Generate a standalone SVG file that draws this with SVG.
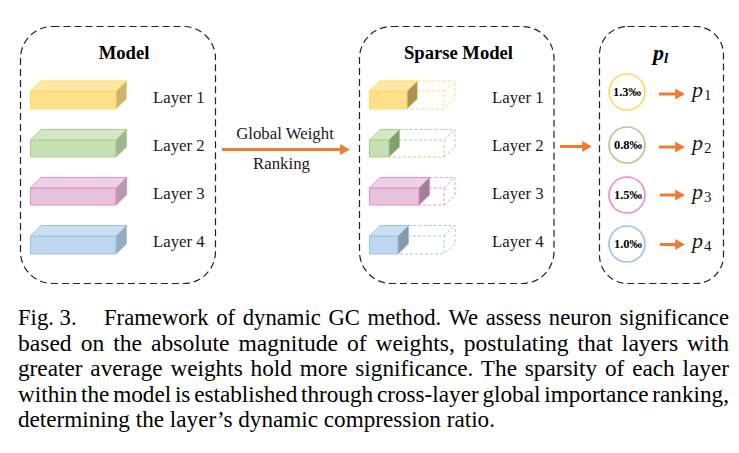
<svg xmlns="http://www.w3.org/2000/svg" width="739" height="453" viewBox="0 0 739 453">
<style>
text{font-family:"Liberation Serif",serif;fill:#1a1a1a}
.frame{fill:none;stroke:#222;stroke-width:1.2;stroke-dasharray:7 4}
.t{font-size:16.800px}
.h{font-size:18.600px;font-weight:bold;text-anchor:middle;fill:#000}
.c{font-size:22.700px;fill:#000}
.pct{font-size:12.500px;font-weight:bold;text-anchor:middle;fill:#000}
.pl{font-size:22px;font-style:italic}
.pl tspan{font-size:15px;font-style:normal}
.conn{stroke:#ed7d31;stroke-width:3;fill:none;marker-end:url(#a)}
.s{stroke-width:1;stroke-linejoin:miter}
.dash{fill:none;stroke-width:.9;stroke-dasharray:3 2}
.ry{stroke:#ffd966}.rg{stroke:#a9d18e}.rp{stroke:#f08ccb}.rb{stroke:#9dc3e6}
.ci{fill:#fff;stroke-width:1.7}
</style>
<defs><marker id="a" markerWidth="4" markerHeight="4" refX="2.6" refY="2" orient="auto"><path d="M0,0.200L3.200,2L0,3.800z" fill="#ed7d31"/></marker></defs>
<rect width="739" height="453" fill="#fff"/>
<g id="model">
<rect class="frame" x="20.500" y="26.500" width="195" height="257" rx="32"/>
<text class="h" x="124" y="59">Model</text>
</g>
<g id="model-layer1"><path class="s ry" fill="#ffe08a" d="M30.500,91V109H116V91z"/><path class="s ry" fill="#ffe8a8" d="M30.500,91L41,81H126.500L116,91z"/><path class="s ry" fill="#ccb56e" d="M116,91L126.500,81V99L116,109z"/><text class="t" x="153" y="103">Layer 1</text></g>
<g id="model-layer2"><path class="s rg" fill="#c6e0b4" d="M30.500,140V157H116V140z"/><path class="s rg" fill="#d3e7c7" d="M30.500,140L41,129.500H126.500L116,140z"/><path class="s rg" fill="#9fb690" d="M116,140L126.500,129.500V147L116,157z"/><text class="t" x="153" y="151">Layer 2</text></g>
<g id="model-layer3"><path class="s rp" fill="#e5c3dd" d="M30.500,188V205H116V188z"/><path class="s rp" fill="#ebd2e6" d="M30.500,188L41,177.500H126.500L116,188z"/><path class="s rp" fill="#b79cb1" d="M116,188L126.500,177.500V195L116,205z"/><text class="t" x="153" y="199">Layer 3</text></g>
<g id="model-layer4"><path class="s rb" fill="#bdd7ee" d="M30.500,236V254H116V236z"/><path class="s rb" fill="#cbdff2" d="M30.500,236L41,225.500H126.500L116,236z"/><path class="s rb" fill="#97acbe" d="M116,236L126.500,225.500V244L116,254z"/><text class="t" x="153" y="247">Layer 4</text></g>

<g id="sparse">
<rect class="frame" x="359.500" y="26.500" width="194.500" height="257" rx="32"/>
<text class="h" x="458.500" y="59">Sparse Model</text>
</g>
<g id="sparse-layer1"><path class="dash ry" d="M407,91H444V109H407M417.500,81H455V99L444,109M444,91L455,81"/><path class="s ry" fill="#ffe08a" d="M369.500,91V109H407V91z"/><path class="s ry" fill="#ffe8a8" d="M369.500,91L380,81H417.500L407,91z"/><path class="s ry" fill="#a8925a" d="M407,91L417.500,81V99L407,109z"/><text class="t" x="492" y="103">Layer 1</text></g>
<g id="sparse-layer2"><path class="dash rg" d="M389,140H444V157H389M399.500,129.500H455V147L444,157M444,140L455,129.500"/><path class="s rg" fill="#c6e0b4" d="M369.500,140V157H389V140z"/><path class="s rg" fill="#d3e7c7" d="M369.500,140L380,129.500H399.500L389,140z"/><path class="s rg" fill="#84a070" d="M389,140L399.500,129.500V147L389,157z"/><text class="t" x="492" y="151">Layer 2</text></g>
<g id="sparse-layer3"><path class="dash rp" d="M419,188H444V205H419M429.500,177.500H455V195L444,205M444,188L455,177.500"/><path class="s rp" fill="#e5c3dd" d="M369.500,188V205H419V188z"/><path class="s rp" fill="#ebd2e6" d="M369.500,188L380,177.500H429.500L419,188z"/><path class="s rp" fill="#a08098" d="M419,188L429.500,177.500V195L419,205z"/><text class="t" x="492" y="199">Layer 3</text></g>
<g id="sparse-layer4"><path class="dash rb" d="M398,236H444V254H398M408.500,225.500H455V244L444,254M444,236L455,225.500"/><path class="s rb" fill="#bdd7ee" d="M369.500,236V254H398V236z"/><path class="s rb" fill="#cbdff2" d="M369.500,236L380,225.500H408.500L398,236z"/><path class="s rb" fill="#8499ab" d="M398,236L408.500,225.500V244L398,254z"/><text class="t" x="492" y="247">Layer 4</text></g>

<g id="pl">
<rect class="frame" x="599.500" y="26.500" width="124" height="257" rx="28"/>
<text x="653" y="60" style="font-size:22px;font-weight:bold;font-style:italic;fill:#000">p<tspan font-size="15" dy="3">l</tspan></text>
</g>
<g id="p1"><circle class="ci ry" cx="627" cy="92" r="18"/><text class="pct" x="627" y="96">1.3‰</text><text class="pl" x="692" y="97">p<tspan dx="1" dy="3">1</tspan></text></g>
<g id="p2"><circle class="ci rg" cx="627" cy="145" r="18"/><text class="pct" x="628" y="149">0.8‰</text><text class="pl" x="692" y="150">p<tspan dx="1" dy="3">2</tspan></text></g>
<g id="p3"><circle class="ci rp" cx="627" cy="195" r="18"/><text class="pct" x="628" y="199">1.5‰</text><text class="pl" x="692" y="199">p<tspan dx="1" dy="3">3</tspan></text></g>
<g id="p4"><circle class="ci rb" cx="627" cy="244" r="18"/><text class="pct" x="628" y="248">1.0‰</text><text class="pl" x="692" y="248">p<tspan dx="1" dy="3">4</tspan></text></g>

<g id="connectors">
<path class="conn" d="M222,149.500H348"/>
<path class="conn" d="M560,146.500H590"/>
<path class="conn" d="M659,94H683"/>
<path class="conn" d="M659,147H683"/>
<path class="conn" d="M660,195H683"/>
<path class="conn" d="M660,244.500H683"/>
</g>
<text class="t" x="285" y="139" text-anchor="middle">Global Weight</text>
<text class="t" x="281.500" y="169" text-anchor="middle">Ranking</text>

<g id="caption">
<text class="c" x="18" y="325">Fig. 3.</text>
<text class="c" x="104" y="325" word-spacing="2" lengthAdjust="spacingAndGlyphs" textLength="625">Framework of dynamic GC method. We assess neuron significance</text>
<text class="c" x="18" y="350.500" word-spacing="3" lengthAdjust="spacingAndGlyphs" textLength="711">based on the absolute magnitude of weights, postulating that layers with</text>
<text class="c" x="18" y="376" word-spacing="2" lengthAdjust="spacingAndGlyphs" textLength="711">greater average weights hold more significance. The sparsity of each layer</text>
<text class="c" x="18" y="401.500" word-spacing="-2" lengthAdjust="spacingAndGlyphs" textLength="711">within the model is established through cross-layer global importance ranking,</text>
<text class="c" x="18" y="427" lengthAdjust="spacingAndGlyphs" textLength="477">determining the layer’s dynamic compression ratio.</text>
</g>
</svg>
